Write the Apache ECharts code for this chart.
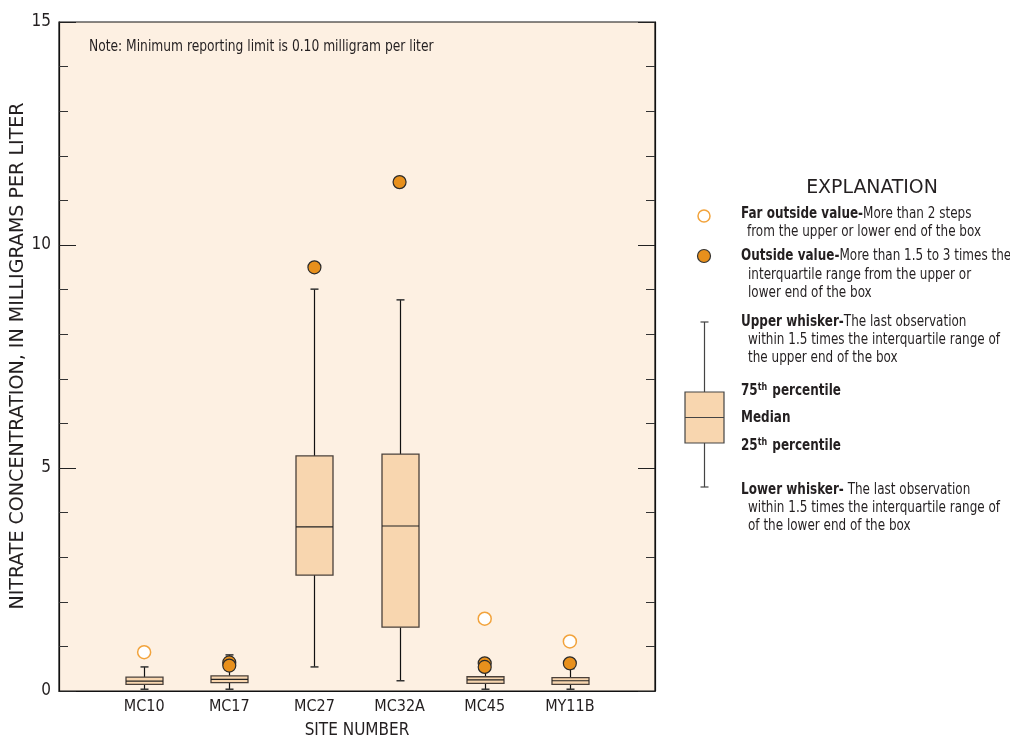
<!DOCTYPE html>
<html>
<head>
<meta charset="utf-8">
<script src="https://cdn.jsdelivr.net/npm/echarts@6/dist/echarts.min.js"></script>
<style>
  html, body { margin: 0; padding: 0; background: #ffffff; }
  #chart { width: 1010px; height: 738px; }
</style>
</head>
<body>
<div id="chart"></div>
<script>
// Nitrate concentration (mg/L) box plots by site
const sites = ['MC10', 'MC17', 'MC27', 'MC32A', 'MC45', 'MY11B'];
const lowerWhisker = [0.04, 0.04, 0.54, 0.23, 0.04, 0.04];
const q1 = [0.15, 0.19, 2.60, 1.43, 0.17, 0.15];
const median = [0.22, 0.26, 3.68, 3.70, 0.25, 0.23];
const q3 = [0.31, 0.34, 5.27, 5.31, 0.32, 0.30];
const upperWhisker = [0.54, 0.81, 9.01, 8.77, 0.50, 0.50];
const outsideValues = [[], [0.64, 0.57], [9.5], [11.41], [0.62, 0.54], [0.62]];
const farOutsideValues = [[0.87], [], [], [], [1.62], [1.11]];
const yTicks = [0, 5, 10, 15];

const FONT = '"Liberation Sans Narrow", "DejaVu Sans Condensed", "Liberation Sans", sans-serif';
const INK = '#231f20';
const BOX_FILL = '#f8d6af';
const OUT_FILL = '#e8901c';
const FAR_STROKE = '#f2a33c';

const boxData = sites.map((s, i) => [i + 1, lowerWhisker[i], q1[i], median[i], q3[i], upperWhisker[i]]);
const outsideData = [];
outsideValues.forEach((vals, i) => vals.forEach(v => outsideData.push([i + 1, v])));
const farData = [];
farOutsideValues.forEach((vals, i) => vals.forEach(v => farData.push([i + 1, v])));

function renderBox(params, api) {
  const x = api.value(0);
  const pLow = api.coord([x, api.value(1)]);
  const pQ1 = api.coord([x, api.value(2)]);
  const pMed = api.coord([x, api.value(3)]);
  const pQ3 = api.coord([x, api.value(4)]);
  const pHigh = api.coord([x, api.value(5)]);
  const cx = Math.round(pMed[0]) + 0.5;
  const half = 18.5, cap = 4;
  const lineStyle = { stroke: '#111', lineWidth: 1.2 };
  return {
    type: 'group',
    children: [
      { type: 'line', shape: { x1: cx, y1: pHigh[1], x2: cx, y2: pQ3[1] }, style: lineStyle },
      { type: 'line', shape: { x1: cx, y1: pQ1[1], x2: cx, y2: pLow[1] }, style: lineStyle },
      { type: 'line', shape: { x1: cx - cap, y1: pHigh[1], x2: cx + cap, y2: pHigh[1] }, style: { stroke: '#333', lineWidth: 1.5 } },
      { type: 'line', shape: { x1: cx - cap, y1: pLow[1], x2: cx + cap, y2: pLow[1] }, style: { stroke: '#333', lineWidth: 1.5 } },
      { type: 'rect', shape: { x: cx - half, y: pQ3[1], width: half * 2, height: pQ1[1] - pQ3[1] },
        style: { fill: BOX_FILL, stroke: '#4a403a', lineWidth: 1.3 } },
      { type: 'line', shape: { x1: cx - half, y1: pMed[1], x2: cx + half, y2: pMed[1] }, style: { stroke: '#222', lineWidth: 1.2 } }
    ]
  };
}

const yAxisCommon = {
  type: 'value', min: 0, max: 15, interval: 5,
  axisLine: { show: true, lineStyle: { color: '#111', width: 1.2 } },
  axisTick: { show: true, inside: true, length: 17, lineStyle: { color: '#222', width: 1 } },
  minorTick: { show: true, splitNumber: 5, length: 9, lineStyle: { color: '#333', width: 1 } },
  splitLine: { show: false }
};

// Explanation panel on the right
const LX = 704;
const SQ = 0.89;
const richStyles = {
  b: { fontFamily: FONT, fontWeight: 'bold', fontSize: 15, color: INK },
  r: { fontFamily: FONT, fontSize: 15, color: INK },
  sup: { fontFamily: FONT, fontWeight: 'bold', fontSize: 10, color: INK, verticalAlign: 'top', padding: [0, 1, 8, 0] }
};
const legendText = (x, y, text) => ({
  type: 'text', x: x, y: y, scaleX: SQ,
  style: { text: text, font: '15px ' + FONT, fill: INK, rich: richStyles, verticalAlign: 'middle' }
});

const graphics = [
  { type: 'text', x: 872, y: 188, scaleX: 1.05, style: { text: 'EXPLANATION', font: '20px ' + FONT, fill: INK, align: 'center', verticalAlign: 'middle' } },
  { type: 'circle', shape: { cx: LX, cy: 216, r: 6 }, style: { fill: '#fff', stroke: FAR_STROKE, lineWidth: 1.5 } },
  legendText(741, 214, '{b|Far outside value-}{r|More than 2 steps}'),
  legendText(747, 232, '{r|from the upper or lower end of the box}'),
  { type: 'circle', shape: { cx: LX, cy: 256, r: 6.5 }, style: { fill: OUT_FILL, stroke: '#333', lineWidth: 1.2 } },
  legendText(741, 256, '{b|Outside value-}{r|More than 1.5 to 3 times the}'),
  legendText(748, 275, '{r|interquartile range from the upper or}'),
  legendText(748, 293, '{r|lower end of the box}'),
  { type: 'line', shape: { x1: LX + 0.5, y1: 322, x2: LX + 0.5, y2: 487 }, style: { stroke: '#444', lineWidth: 1.2 } },
  { type: 'line', shape: { x1: LX - 3.5, y1: 322, x2: LX + 4.5, y2: 322 }, style: { stroke: '#444', lineWidth: 1.2 } },
  { type: 'line', shape: { x1: LX - 3.5, y1: 487, x2: LX + 4.5, y2: 487 }, style: { stroke: '#444', lineWidth: 1.2 } },
  { type: 'rect', shape: { x: 685, y: 392, width: 39, height: 51 }, style: { fill: BOX_FILL, stroke: '#444', lineWidth: 1.2 } },
  { type: 'line', shape: { x1: 685, y1: 417.5, x2: 724, y2: 417.5 }, style: { stroke: '#444', lineWidth: 1.2 } },
  legendText(741, 322, '{b|Upper whisker-}{r|The last observation}'),
  legendText(748, 340, '{r|within 1.5 times the interquartile range of}'),
  legendText(748, 358, '{r|the upper end of the box}'),
  legendText(741, 391, '{b|75}{sup|th}{b| percentile}'),
  legendText(741, 418, '{b|Median}'),
  legendText(741, 446, '{b|25}{sup|th}{b| percentile}'),
  legendText(741, 490, '{b|Lower whisker-}{r| The last observation}'),
  legendText(748, 508, '{r|within 1.5 times the interquartile range of}'),
  legendText(748, 526, '{r|of the lower end of the box}'),
  { type: 'text', x: 89, y: 47, scaleX: 0.91, style: { text: 'Note: Minimum reporting limit is 0.10 milligram per liter', font: '15px ' + FONT, fill: INK, verticalAlign: 'middle' } },
  // vertical axis title
  { type: 'text', x: 18, y: 356, rotation: Math.PI / 2, scaleX: 1.06,
    style: { text: 'NITRATE CONCENTRATION, IN MILLIGRAMS PER LITER', font: '20px ' + FONT, fill: INK, align: 'center', verticalAlign: 'middle' } }
];

const chart = echarts.init(document.getElementById('chart'), null, { renderer: 'canvas' });
chart.setOption({
  backgroundColor: '#ffffff',
  animation: false,
  textStyle: { fontFamily: FONT, color: INK },
  grid: { left: 59, right: 355, top: 22, bottom: 47, containLabel: false, outerBoundsMode: 'none',
    show: true, backgroundColor: '#fdf0e2', borderColor: '#111', borderWidth: 1.2 },
  xAxis: {
    type: 'value', min: 0, max: 7, interval: 1,
    name: 'SITE NUMBER', nameLocation: 'middle', nameGap: 31,
    nameTextStyle: { fontFamily: FONT, fontSize: 17, color: INK },
    axisLine: { show: true, onZero: false, lineStyle: { color: '#111', width: 1.2 } },
    axisTick: { show: false },
    splitLine: { show: false },
    axisLabel: {
      fontFamily: FONT, fontSize: 16, color: INK, margin: 8,
      formatter: v => (v >= 1 && v <= sites.length) ? sites[v - 1] : ''
    }
  },
  yAxis: [
    Object.assign({}, yAxisCommon, {
      position: 'left',
      axisLabel: {
        fontFamily: FONT, fontSize: 17, color: INK, margin: 8,
        formatter: v => yTicks.indexOf(v) >= 0 ? String(v) : ''
      }
    }),
    Object.assign({}, yAxisCommon, { position: 'right', axisLabel: { show: false } })
  ],
  graphic: graphics,
  series: [
    { type: 'custom', renderItem: renderBox, data: boxData, encode: { x: 0, y: [1, 2, 3, 4, 5] }, z: 2 },
    { type: 'scatter', data: outsideData, symbol: 'circle', symbolSize: 13,
      itemStyle: { color: OUT_FILL, borderColor: '#2a2a2a', borderWidth: 1.2, opacity: 1 }, z: 4 },
    { type: 'scatter', data: farData, symbol: 'circle', symbolSize: 13,
      itemStyle: { color: '#ffffff', borderColor: FAR_STROKE, borderWidth: 1.5, opacity: 1 }, z: 4 }
  ]
});
</script>
</body>
</html>
